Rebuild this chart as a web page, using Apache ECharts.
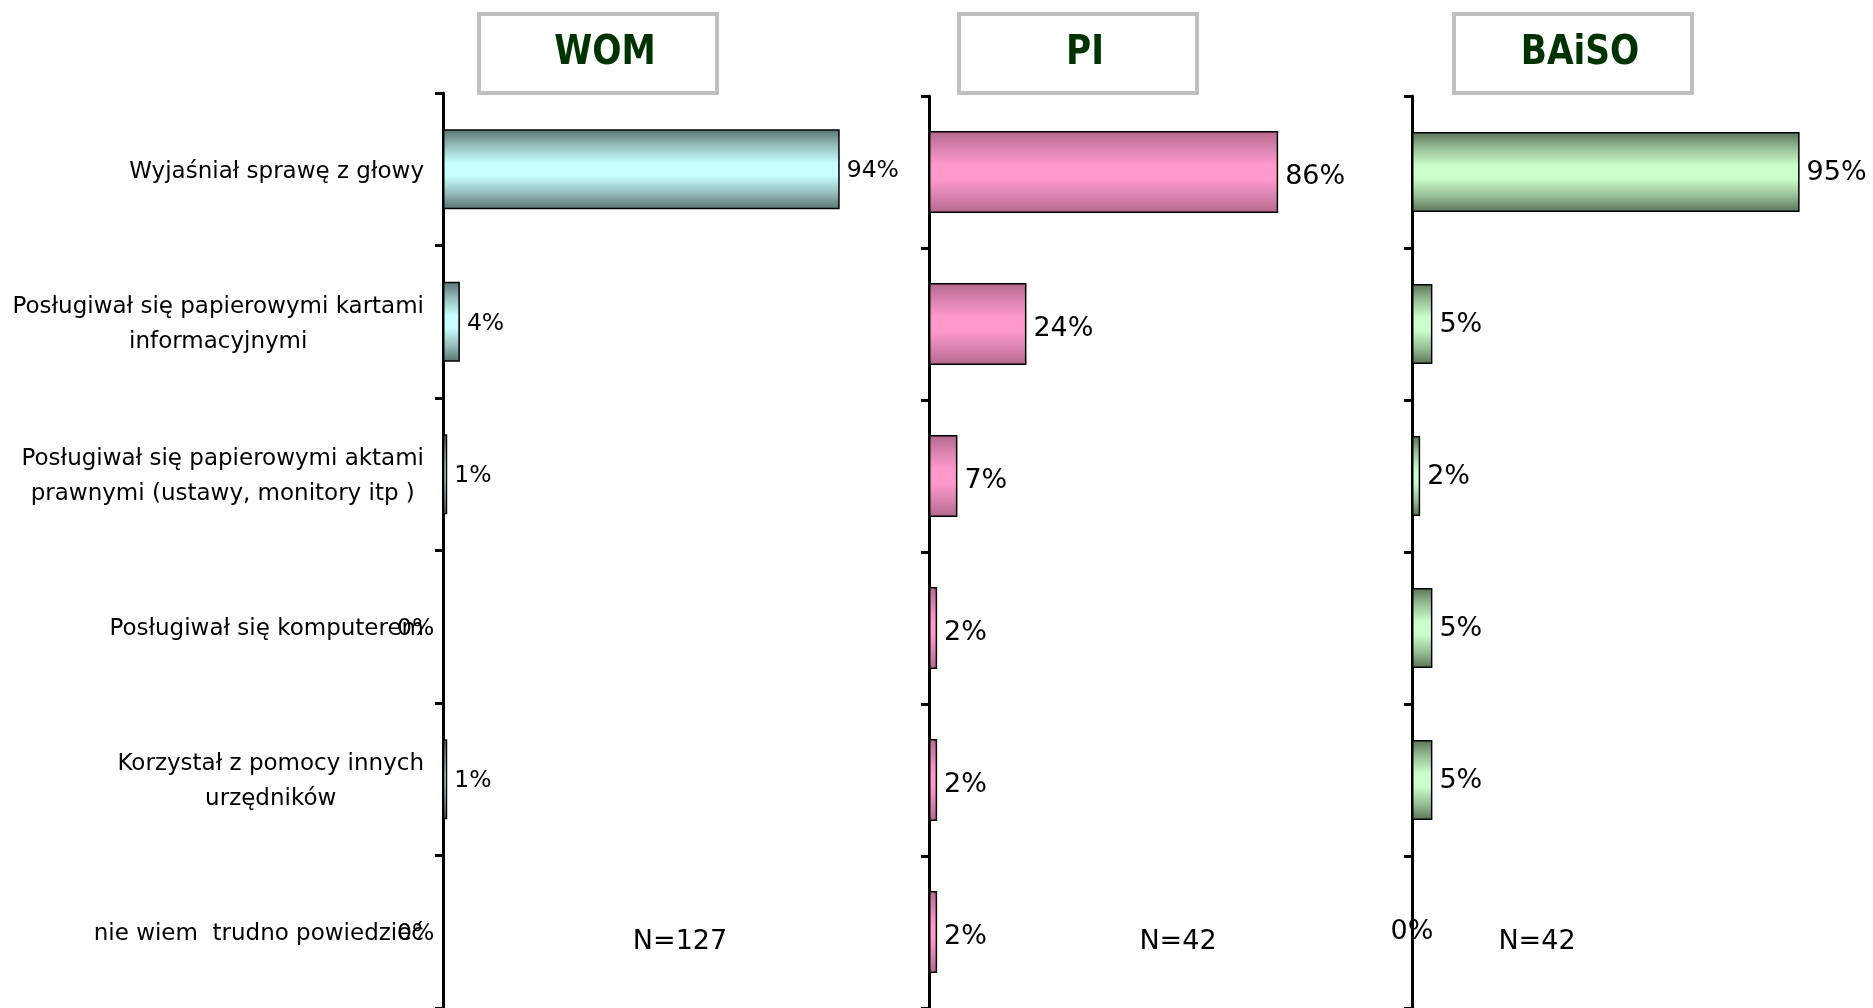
<!DOCTYPE html>
<html>
<head>
<meta charset="utf-8">
<script src="https://cdn.jsdelivr.net/npm/echarts@6/dist/echarts.min.js"></script>
<style>
  html, body { margin: 0; padding: 0; background: #ffffff; }
  #chart { width: 1873px; height: 1008px; }
</style>
</head>
<body>
<div id="chart"></div>
<script>
// Sposób udzielania informacji – odsetek odpowiedzi w trzech instytucjach
const categories = [
  'Wyjaśniał sprawę z głowy',
  'Posługiwał się papierowymi kartami\ninformacyjnymi',
  'Posługiwał się papierowymi aktami\nprawnymi (ustawy, monitory itp )',
  'Posługiwał się komputerem',
  'Korzystał z pomocy innych\nurzędników',
  'nie wiem  trudno powiedzieć'
];
const panelNames = ['WOM', 'PI', 'BAiSO'];
const sampleSizes = ['N=127', 'N=42', 'N=42'];
const womValues = [94, 4, 1, 0, 1, 0];
const piValues = [86, 24, 7, 2, 2, 2];
const baisoValues = [95, 5, 2, 5, 5, 0];

const FONT = 'DejaVu Sans';

function barGradient(edge, mid, center) {
  return new echarts.graphic.LinearGradient(0, 0, 0, 1, [
    { offset: 0, color: edge },
    { offset: 0.2, color: mid },
    { offset: 0.42, color: center },
    { offset: 0.58, color: center },
    { offset: 0.8, color: mid },
    { offset: 1, color: edge }
  ]);
}

// per-panel layout and styling
const panels = [
  { values: womValues, left: 443, top: 93, width: 422, height: 915, barWidth: 80,
    color: barGradient('#587371', '#94bcbb', '#c9ffff'),
    labelSize: 23.5, labelOffset: [0, 2], zeroLabel: { position: 'left', distance: 8 },
    box: [477, 12], nPos: [680, 942] },
  { values: piValues, left: 929, top: 96, width: 406, height: 917, barWidth: 82,
    color: barGradient('#b3678d', '#d983ae', '#ff99cc'),
    labelSize: 27, labelOffset: [0, 5], zeroLabel: { position: 'inside', color: '#000' },
    box: [957, 12], nPos: [1178, 942] },
  { values: baisoValues, left: 1412, top: 96, width: 408, height: 914, barWidth: 80,
    color: barGradient('#587458', '#97bf97', '#ccffcc'),
    labelSize: 27, labelOffset: [0, 1], zeroLabel: { position: 'inside', color: '#000', offset: [0, 0] },
    box: [1452, 12], nPos: [1537, 942] }
];

const grids = [], xAxes = [], yAxes = [], series = [], graphics = [];

panels.forEach((p, i) => {
  grids.push({ left: p.left, top: p.top, width: p.width, height: p.height, containLabel: false });
  xAxes.push({ type: 'value', gridIndex: i, min: 0, max: 100, show: false });
  yAxes.push({
    type: 'category', gridIndex: i, data: categories, inverse: true,
    axisLine: { show: true, lineStyle: { color: '#000', width: 3 } },
    axisTick: { show: true, length: 8, lineStyle: { color: '#000', width: 3 } },
    splitLine: { show: false },
    axisLabel: i === 0 ? {
      show: true, interval: 0, margin: 19, color: '#000',
      fontFamily: FONT, fontSize: 23, lineHeight: 35, padding: [5, 0, 0, 0],
      formatter: v => v.split('\n').map(s => '{c|' + s + '}').join('\n'),
      rich: { c: { align: 'center', fontFamily: FONT, fontSize: 23, lineHeight: 35, color: '#000' } }
    } : { show: false }
  });
  series.push({
    type: 'bar', xAxisIndex: i, yAxisIndex: i, barWidth: p.barWidth,
    itemStyle: { color: p.color, borderColor: '#000', borderWidth: 1.5 },
    label: {
      show: true, position: 'right', distance: 7, color: '#000', offset: p.labelOffset,
      fontFamily: FONT, fontSize: p.labelSize, formatter: '{c}%'
    },
    data: p.values.map(v => v === 0 ? { value: v, label: p.zeroLabel } : v),
    silent: true, animation: false
  });
  // panel heading box
  graphics.push({
    type: 'rect', shape: { x: p.box[0] + 2, y: p.box[1] + 2, width: 238, height: 79 },
    style: { fill: '#fff', stroke: '#c0c0c0', lineWidth: 4 }
  });
  graphics.push({
    type: 'text', x: p.box[0] + 128, y: p.box[1] + 42, scaleX: 0.86,
    style: { text: panelNames[i], fill: '#003300', align: 'center', verticalAlign: 'middle',
             font: 'bold 40px "' + FONT + '"' }
  });
  graphics.push({
    type: 'text', x: p.nPos[0], y: p.nPos[1],
    style: { text: sampleSizes[i], fill: '#000', align: 'center', verticalAlign: 'middle',
             font: '27px "' + FONT + '"' }
  });
});

const chart = echarts.init(document.getElementById('chart'), null, { renderer: 'canvas' });
chart.setOption({
  backgroundColor: '#ffffff',
  animation: false,
  grid: grids, xAxis: xAxes, yAxis: yAxes, series: series,
  graphic: graphics
});
</script>
</body>
</html>
